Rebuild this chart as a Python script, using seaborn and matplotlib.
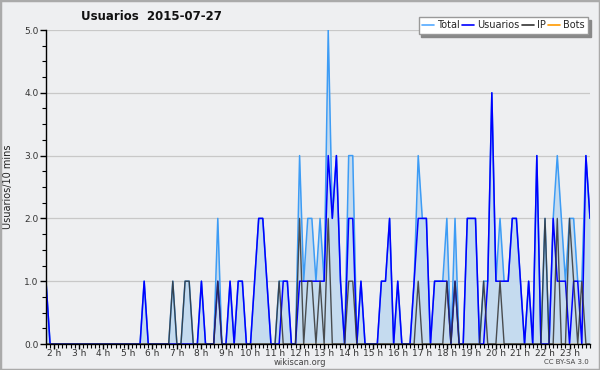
import numpy as np
import pandas as pd
import seaborn as sns
import matplotlib.pyplot as plt
from matplotlib.lines import Line2D
from matplotlib.patches import Rectangle

# ---- data (10-minute slots starting 01:40, ending 23:50) ----
start_time = "01:40"
total = [1] + [0]*23 + [1, 0, 0, 0, 0, 0, 0, 1, 0, 0, 1, 1, 0, 0, 1, 0, 0, 0, 2, 0, 0, 1, 0, 1, 1, 0, 0,
         1, 2, 2, 1, 0, 0, 1, 1, 1, 0, 0, 3, 1, 2, 2, 1, 2, 1, 5, 2, 3, 1, 0, 3, 3, 0, 1, 0, 0, 0, 0,
         1, 1, 2, 0, 1, 0, 0, 0, 1, 3, 2, 2, 0, 1, 1, 1, 2, 0, 2, 0, 0, 2, 2, 2, 0, 1, 1, 4, 1, 2,
         1, 1, 2, 2, 1, 0, 1, 0, 3, 0, 2, 0, 2, 3, 2, 1, 2, 2, 1, 1, 3, 2]
usuarios = [1] + [0]*23 + [1, 0, 0, 0, 0, 0, 0, 0, 0, 0, 0, 0, 0, 0, 1, 0, 0, 0, 1, 0, 0, 1, 0, 1, 1, 0, 0,
            1, 2, 2, 1, 0, 0, 0, 1, 1, 0, 0, 1, 1, 1, 1, 1, 1, 1, 3, 2, 3, 1, 0, 2, 2, 0, 1, 0, 0, 0, 0,
            1, 1, 2, 0, 1, 0, 0, 0, 1, 2, 2, 2, 0, 1, 1, 1, 1, 0, 1, 0, 0, 2, 2, 2, 0, 0, 1, 4, 1, 1,
            1, 1, 2, 2, 1, 0, 1, 0, 3, 0, 0, 0, 2, 1, 1, 1, 0, 1, 1, 0, 3, 2]
ip = [0] + [0]*23 + [0, 0, 0, 0, 0, 0, 0, 1, 0, 0, 1, 1, 0, 0, 0, 0, 0, 0, 1, 0, 0, 0, 0, 0, 0, 0, 0,
      0, 0, 0, 0, 0, 0, 1, 0, 0, 0, 0, 2, 0, 1, 1, 0, 1, 0, 2, 0, 0, 0, 0, 1, 1, 0, 0, 0, 0, 0, 0,
      0, 0, 0, 0, 0, 0, 0, 0, 0, 1, 0, 0, 0, 0, 0, 0, 1, 0, 1, 0, 0, 0, 0, 0, 0, 1, 0, 0, 0, 1,
      0, 0, 0, 0, 0, 0, 0, 0, 0, 0, 2, 0, 0, 2, 0, 0, 2, 1, 0, 1, 0, 0]
bots = [0]*len(total)
hour_ticks = list(range(2, 24))
hour_labels = [f"{h} h" for h in hour_ticks]
series_names = ["Total", "Usuarios", "IP", "Bots"]
series_colors = ["#3d9cf5", "#0000ff", "#333333", "#ff9900"]

h0, m0 = map(int, start_time.split(":"))
t = h0 + m0 / 60 + np.arange(len(total)) / 6.0
df = pd.DataFrame({"t": t, "Total": total, "Usuarios": usuarios, "IP": ip, "Bots": bots})

sns.set_theme(style="white")
plt.rcParams['font.family'] = ['DejaVu Sans']

bg = "#eeeff1"
fig = plt.figure(figsize=(6, 3.7), dpi=100, facecolor=bg)
ax = fig.add_axes([46/600, 26/370, 544/600, 314/370])
ax.set_facecolor(bg)

ax.fill_between(df["t"], df["Total"], color="#c3daef", alpha=0.95, zorder=1, lw=0)
sns.lineplot(data=df, x="t", y="Bots", color=series_colors[3], lw=1.0, ax=ax, zorder=2, legend=False)
sns.lineplot(data=df, x="t", y="Total", color=series_colors[0], lw=1.1, ax=ax, zorder=3, legend=False)
sns.lineplot(data=df, x="t", y="Usuarios", color=series_colors[1], lw=1.1, ax=ax, zorder=4, legend=False)
sns.lineplot(data=df, x="t", y="IP", color=series_colors[2], lw=1.0, alpha=0.85, ax=ax, zorder=5, legend=False)

ax.set_xlim(t[0], t[-1])
ax.set_ylim(0, 5)
ax.set_xlabel("")
ax.set_ylabel("Usuarios/10 mins", fontsize=7, color="#222222", labelpad=8)

ax.set_yticks(np.arange(0, 5.01, 1.0))
ax.set_yticklabels([f"{v:.1f}" for v in np.arange(0, 5.01, 1.0)], fontsize=6.5, color="#333333")
ax.set_yticks(np.arange(0, 5.01, 0.25), minor=True)
ax.set_xticks(hour_ticks)
ax.set_xticklabels(hour_labels, fontsize=6.5, color="#333333")
ax.set_xticks(t, minor=True)
ax.tick_params(axis="y", which="major", direction="out", length=4, width=1, color="black", pad=1.5, left=True)
ax.tick_params(axis="y", which="minor", direction="out", length=3, width=0.8, color="black", left=True)
ax.tick_params(axis="x", which="major", direction="out", length=3.5, width=1, color="black", pad=0, bottom=True)
ax.tick_params(axis="x", which="minor", direction="out", length=3, width=0.8, color="black", bottom=True)

ax.grid(axis="y", which="major", color="#c8c8c8", lw=0.9)
ax.set_axisbelow(True)
for s in ["top", "right"]:
    ax.spines[s].set_visible(False)
for s in ["left", "bottom"]:
    ax.spines[s].set_color("black")
    ax.spines[s].set_linewidth(1.0)
    ax.spines[s].set_zorder(10)

handles = [Line2D([], [], color=c, lw=1.2) for c in series_colors]
handles[0].set_color("#55aaff")
leg = ax.legend(handles, series_names, ncol=4, loc="upper right",
                bbox_to_anchor=(588/600, 1 - 17/370), bbox_transform=fig.transFigure,
                fontsize=7, handlelength=1.2, handletextpad=0.3, columnspacing=0.3,
                borderpad=0.35, frameon=True, fancybox=False, shadow={"color": "#888888", "alpha": 1},
                borderaxespad=0)
leg.get_frame().set_edgecolor("#999999")
leg.get_frame().set_facecolor("white")
leg.get_frame().set_linewidth(1.0)

fig.text(151/600, 1 - 17/370, "Usuarios  2015-07-27", fontsize=8.5, fontweight="bold",
         ha="center", va="center", color="#111111")
fig.text(300/600, 1 - 362.5/370, "wikiscan.org", fontsize=6, ha="center", va="center", color="#444444")
fig.text(589/600, 1 - 362.5/370, "CC BY-SA 3.0", fontsize=5, ha="right", va="center", color="#444444")

fig.patches.append(Rectangle((0, 0), 1, 1, transform=fig.transFigure, fill=False,
                             edgecolor="#aaaaaa", lw=2.5, zorder=20))

fig.savefig("out.png", dpi=100, facecolor=bg)
